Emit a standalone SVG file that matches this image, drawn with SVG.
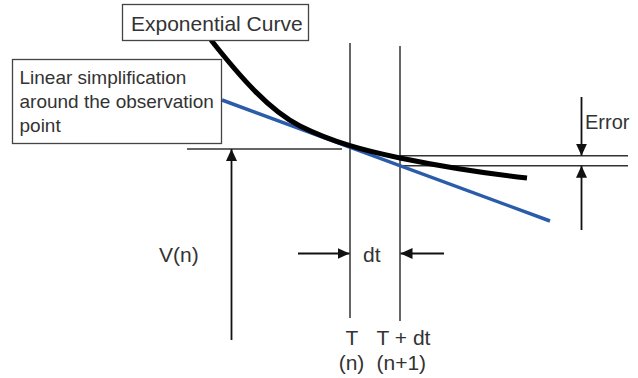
<svg xmlns="http://www.w3.org/2000/svg" width="638" height="378" viewBox="0 0 638 378">
  <style>
    .txt { font-family: "Liberation Sans", Arial, sans-serif; fill: #333; }
    .box { fill: #fff; stroke: #444; stroke-width: 1.3; }
    .thin { stroke: #333; stroke-width: 1.5; fill: none; }
    .arrow { stroke: #111; stroke-width: 1.8; fill: none; marker-end: url(#head); }
  </style>
  <defs>
    <marker id="head" markerUnits="userSpaceOnUse" markerWidth="12" markerHeight="11" refX="12" refY="5.5" orient="auto">
      <path d="M0,0 L12,5.5 L0,11 Z" fill="#111"/>
    </marker>
  </defs>
  <rect width="638" height="378" fill="#fff"/>

  <g id="connectors">
    <!-- time lines -->
    <line class="thin" x1="350" y1="43" x2="350" y2="318"/>
    <line class="thin" x1="400" y1="46" x2="400" y2="321"/>
    <!-- V(n) reference line -->
    <line class="thin" x1="187" y1="149" x2="342" y2="149"/>
    <!-- error reference lines -->
    <line class="thin" x1="400" y1="155.7" x2="628" y2="155.7"/>
    <line class="thin" x1="400" y1="165.7" x2="628" y2="165.7"/>
    <!-- arrows -->
    <line class="arrow" x1="231.5" y1="340" x2="231.5" y2="149"/>
    <line class="arrow" x1="581.5" y1="97" x2="581.5" y2="155.7"/>
    <line class="arrow" x1="581.5" y1="230" x2="581.5" y2="165.7"/>
    <line class="arrow" x1="298" y1="253.5" x2="349.5" y2="253.5"/>
    <line class="arrow" x1="444" y1="253.5" x2="400.5" y2="253.5"/>
    <!-- linear simplification -->
    <line x1="222" y1="100" x2="550" y2="221" stroke="#2a5caa" stroke-width="3.5"/>
    <!-- exponential curve -->
    <path d="M211,40 C241,78 270,111 300,126 C333.3,142.7 366.7,151.1 400,158 C442.3,166.7 484.7,173.3 527,178" fill="none" stroke="#000" stroke-width="5"/>
  </g>

  <g id="exp-label">
    <rect class="box" x="122.5" y="4.5" width="186" height="36"/>
    <text class="txt" x="131" y="31" font-size="21">Exponential Curve</text>
  </g>

  <g id="linear-label">
    <rect class="box" x="12.5" y="59.5" width="209" height="84"/>
    <text class="txt" font-size="19">
      <tspan x="19.5" y="84">Linear simplification</tspan>
      <tspan x="19.5" y="108">around the observation</tspan>
      <tspan x="19.5" y="132">point</tspan>
    </text>
  </g>

  <g id="error-label">
    <text class="txt" x="585" y="129" font-size="20">Error</text>
  </g>

  <g id="v-label">
    <text class="txt" x="159" y="262" font-size="21">V(n)</text>
  </g>

  <g id="dt-label">
    <text class="txt" x="363" y="262" font-size="21">dt</text>
  </g>

  <g id="t-label">
    <text class="txt" x="352" y="345" font-size="21" text-anchor="middle">T</text>
    <text class="txt" x="351.5" y="370" font-size="21" text-anchor="middle">(n)</text>
  </g>

  <g id="tdt-label">
    <text class="txt" x="376.5" y="345" font-size="21">T + dt</text>
    <text class="txt" x="376.5" y="370" font-size="21">(n+1)</text>
  </g>
</svg>
